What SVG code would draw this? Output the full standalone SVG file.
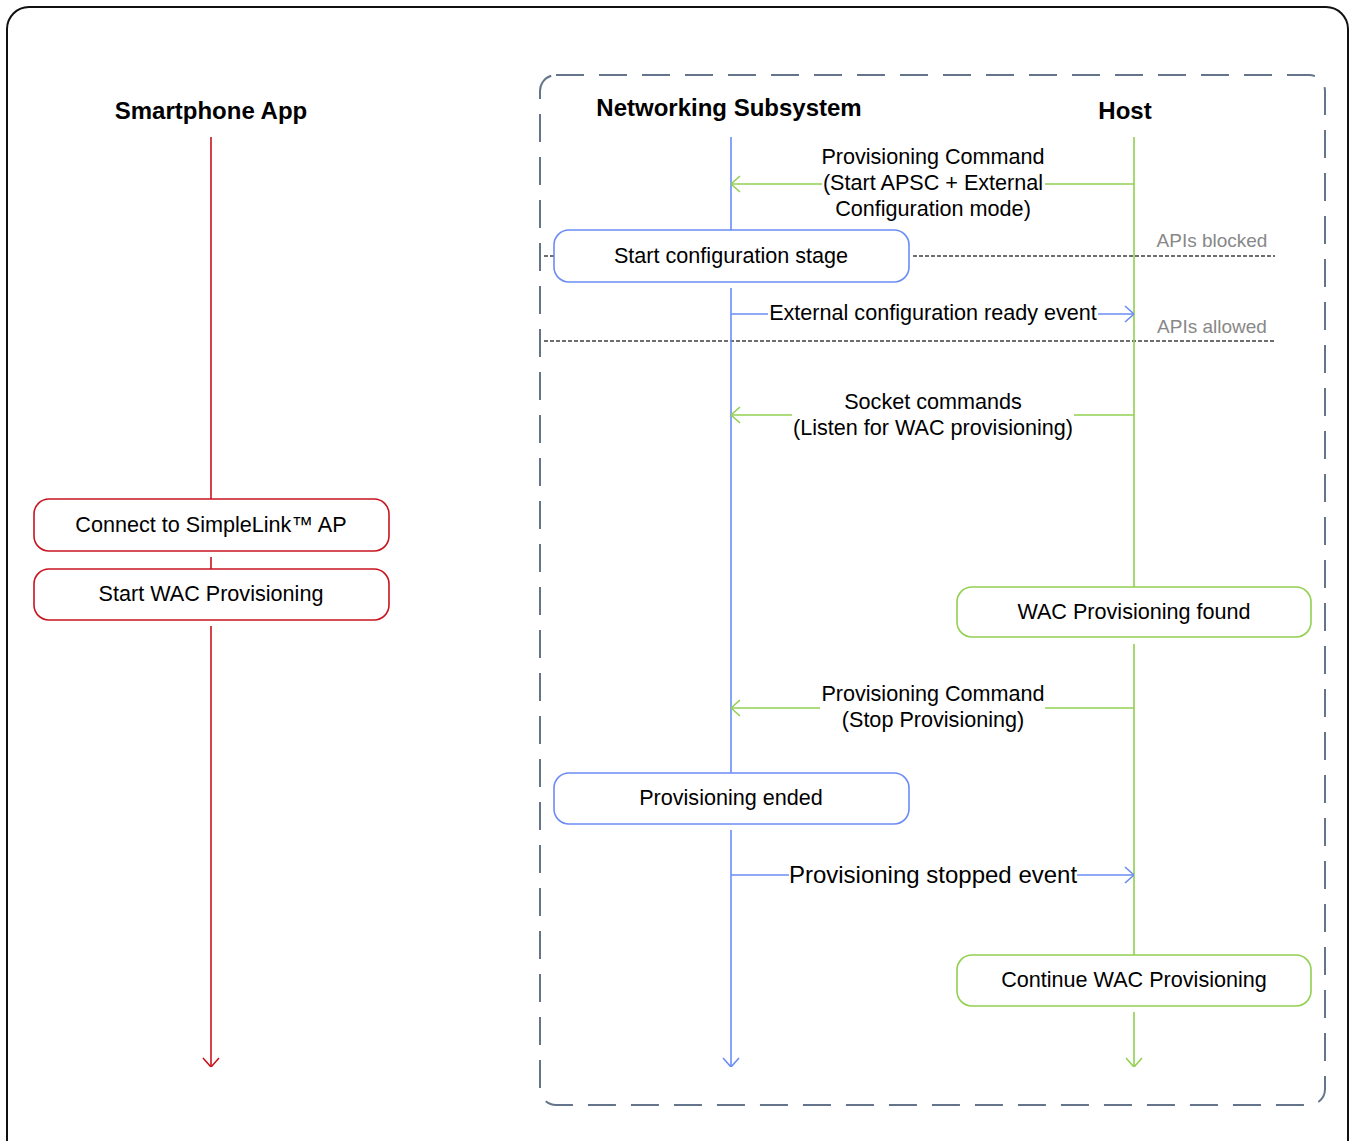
<svg xmlns="http://www.w3.org/2000/svg" width="1351" height="1141" viewBox="0 0 1351 1141">
<defs>
<style>
text{font-family:"Liberation Sans",Arial,sans-serif;fill:#000;text-anchor:middle}
.title{font-size:24px;font-weight:bold}
.lbl{font-size:21.6px}
.big{font-size:24px}
.api{font-size:19px;fill:#888}
.red{stroke:#c8141e;fill:none;stroke-width:1.6}
.blue{stroke:#6b8cf5;fill:none;stroke-width:1.6}
.green{stroke:#92d050;fill:none;stroke-width:1.6}
.box{fill:#fff;stroke-width:1.6}
.sep{stroke:#6e6e6e;stroke-width:1.8;stroke-dasharray:4 2;fill:none}
</style>
<marker id="ar" viewBox="0 0 10 20" markerWidth="10" markerHeight="20" refX="10" refY="10" orient="auto" markerUnits="userSpaceOnUse"><path d="M1,2 L10,10 L1,18" fill="none" stroke="#c8141e" stroke-width="1.6"/></marker>
<marker id="ab" viewBox="0 0 10 20" markerWidth="10" markerHeight="20" refX="10" refY="10" orient="auto" markerUnits="userSpaceOnUse"><path d="M1,2 L10,10 L1,18" fill="none" stroke="#6b8cf5" stroke-width="1.6"/></marker>
<marker id="ag" viewBox="0 0 10 20" markerWidth="10" markerHeight="20" refX="10" refY="10" orient="auto" markerUnits="userSpaceOnUse"><path d="M1,2 L10,10 L1,18" fill="none" stroke="#92d050" stroke-width="1.6"/></marker>
</defs>
<rect x="7" y="7" width="1341" height="1160" rx="22" fill="#fff" stroke="#111" stroke-width="2"/>
<rect x="540" y="75" width="785" height="1030" rx="16" fill="none" stroke="#64748a" stroke-width="2" stroke-dasharray="28 15"/>

<g id="titles">
<text class="title" x="211" y="119">Smartphone App</text>
<text class="title" x="729" y="116">Networking Subsystem</text>
<text class="title" x="1125" y="119">Host</text>
</g>

<g id="separators">
<line class="sep" x1="544" y1="256" x2="554" y2="256"/>
<line class="sep" x1="913" y1="256" x2="1275" y2="256"/>
<line class="sep" x1="544" y1="341" x2="1275" y2="341"/>
<text class="api" x="1212" y="247">APIs blocked</text>
<text class="api" x="1212" y="333">APIs allowed</text>
</g>

<g id="connectors">
<path class="red" d="M211,137 V499 M211,557 V569"/>
<path class="red" d="M211,626 V1067" marker-end="url(#ar)"/>
<path class="blue" d="M731,137 V230 M731,288 V773"/>
<path class="blue" d="M731,830 V1067" marker-end="url(#ab)"/>
<path class="green" d="M1134,137 V587 M1134,644 V955"/>
<path class="green" d="M1134,1012 V1067" marker-end="url(#ag)"/>
<path class="green" d="M1134,184 H1045"/>
<path class="green" d="M822,184 H731" marker-end="url(#ag)"/>
<path class="blue" d="M731,314 H768"/>
<path class="blue" d="M1098,314 H1134" marker-end="url(#ab)"/>
<path class="green" d="M1134,415 H1074"/>
<path class="green" d="M792,415 H731" marker-end="url(#ag)"/>
<path class="green" d="M1134,708 H1045"/>
<path class="green" d="M820,708 H731" marker-end="url(#ag)"/>
<path class="blue" d="M731,875 H789"/>
<path class="blue" d="M1077,875 H1134" marker-end="url(#ab)"/>
</g>

<g id="msg-labels">
<text class="lbl" x="933" y="164">Provisioning Command</text>
<text class="lbl" x="933" y="190">(Start APSC + External</text>
<text class="lbl" x="933" y="216">Configuration mode)</text>
<text class="lbl" x="933" y="320">External configuration ready event</text>
<text class="lbl" x="933" y="409">Socket commands</text>
<text class="lbl" x="933" y="435">(Listen for WAC provisioning)</text>
<text class="lbl" x="933" y="701">Provisioning Command</text>
<text class="lbl" x="933" y="727">(Stop Provisioning)</text>
<text class="big" x="933" y="882.5">Provisioning stopped event</text>
</g>

<g id="node-connect">
<rect class="box red" x="34" y="499" width="355" height="52" rx="15"/>
<text class="lbl" x="211" y="532">Connect to SimpleLink™ AP</text>
</g>
<g id="node-startwac">
<rect class="box red" x="34" y="569" width="355" height="51" rx="15"/>
<text class="lbl" x="211" y="601">Start WAC Provisioning</text>
</g>
<g id="node-startcfg">
<rect class="box blue" x="554" y="230" width="355" height="52" rx="15"/>
<text class="lbl" x="731" y="263">Start configuration stage</text>
</g>
<g id="node-provended">
<rect class="box blue" x="554" y="773" width="355" height="51" rx="15"/>
<text class="lbl" x="731" y="805">Provisioning ended</text>
</g>
<g id="node-wacfound">
<rect class="box green" x="957" y="587" width="354" height="50" rx="15"/>
<text class="lbl" x="1134" y="619">WAC Provisioning found</text>
</g>
<g id="node-continue">
<rect class="box green" x="957" y="955" width="354" height="51" rx="15"/>
<text class="lbl" x="1134" y="987">Continue WAC Provisioning</text>
</g>
</svg>
